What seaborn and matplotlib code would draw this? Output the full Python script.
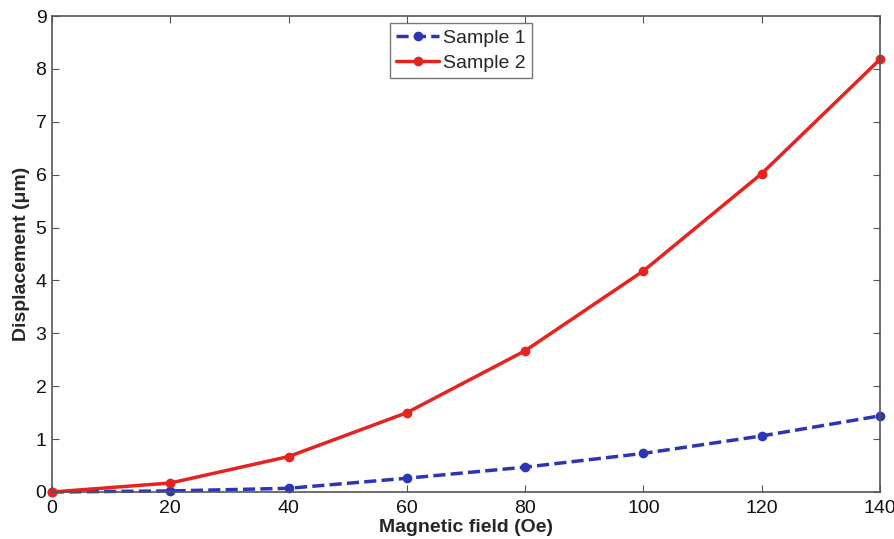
import matplotlib
matplotlib.use("Agg")
import matplotlib.pyplot as plt
import seaborn as sns
import pandas as pd

field = [0, 20, 40, 60, 80, 100, 120, 140]
sample1 = [0.0, 0.02, 0.07, 0.26, 0.47, 0.73, 1.06, 1.44]
sample2 = [0.0, 0.17, 0.67, 1.50, 2.67, 4.18, 6.02, 8.18]
xticks = [0, 20, 40, 60, 80, 100, 120, 140]
yticks = list(range(10))

sns.set_style("ticks")
plt.rcParams['font.family'] = ['Liberation Sans', 'DejaVu Sans']

fig = plt.figure(figsize=(8.95, 5.39), dpi=100)
ax = fig.add_axes([0.0581, 0.0872, 0.9251, 0.8831])

df1 = pd.DataFrame({"x": field, "y": sample1})
df2 = pd.DataFrame({"x": field, "y": sample2})
sns.lineplot(data=df1, x="x", y="y", ax=ax, color="#2b35b5", linestyle=(0, (3.5, 1.5)),
             linewidth=2.5, marker="o", markersize=7, markeredgewidth=0, label="Sample 1",
             clip_on=False)
sns.lineplot(data=df2, x="x", y="y", ax=ax, color="#e8231f", linestyle="-",
             linewidth=2.5, marker="o", markersize=7, markeredgewidth=0, label="Sample 2",
             clip_on=False)

ax.set_xlim(0, 140)
ax.set_ylim(0, 9)
ax.set_xticks(xticks)
ax.set_yticks(yticks)
ax.tick_params(direction="in", top=True, right=True, labelsize=14, length=5, color="#555555",
               labelcolor="#111111")
ax.tick_params(axis="x", pad=6)
ax.tick_params(axis="y", pad=4)
for s in ax.spines.values():
    s.set_color("#555555")
    s.set_linewidth(1.2)
ax.set_xlabel("Magnetic field (Oe)", fontsize=14, fontweight="bold", labelpad=1.5)
ax.set_ylabel("Displacement (\u03bcm)", fontsize=14, fontweight="bold", labelpad=4)

leg = ax.legend(loc="upper center", bbox_to_anchor=(0.494, 1.0), fontsize=14, frameon=True,
                fancybox=False, edgecolor="#555555", handlelength=2.2, handletextpad=0.2,
                borderpad=0.35, labelspacing=0.35, borderaxespad=0.35)
leg.get_frame().set_linewidth(1.0)

fig.savefig("out.png", dpi=100)
